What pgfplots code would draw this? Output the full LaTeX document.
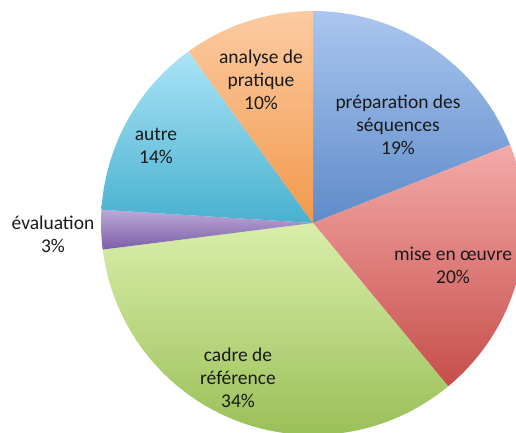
\documentclass[border=0pt]{standalone}
\usepackage{pgfplots}
\pgfplotsset{compat=1.18}
\usepgfplotslibrary{polar}
\usetikzlibrary{calc}
\usepackage{fontspec}
\setmainfont{Carlito}
% slice colours: light (top) and dark (bottom) ends of each gradient
\definecolor{blueT}{HTML}{ABC6F0}
\definecolor{blueB}{HTML}{5E8BC8}
\definecolor{redT}{HTML}{F4AAA9}
\definecolor{redB}{HTML}{C64E4A}
\definecolor{greenT}{HTML}{DAEEAA}
\definecolor{greenB}{HTML}{9AC058}
\definecolor{purpT}{HTML}{BCA9D8}
\definecolor{purpB}{HTML}{7B5EA6}
\definecolor{cyanT}{HTML}{ABE4F7}
\definecolor{cyanB}{HTML}{48B1CF}
\definecolor{oranT}{HTML}{FCCBA2}
\definecolor{oranB}{HTML}{F2994C}
\definecolor{txt}{HTML}{1A1A1A}
\tikzset{lbl/.style={align=center,text=txt,font=\fontsize{19.5}{22.8}\selectfont}}
% shares (percent), clockwise from 12 o'clock:
% preparation 19, mise en oeuvre 20, cadre 34, evaluation 3, autre 14, analyse 10
% 1% = 3.6 degrees
\begin{document}
\begin{tikzpicture}
\begin{polaraxis}[hide axis, width=424pt, height=424pt, scale only axis,
  ymin=0, ymax=1, clip=false]
% preparation des sequences 19%: 90 -> 21.6
\addplot[draw=none, top color=blueT, bottom color=blueB, domain=21.6:90, samples=60] {1} -- (axis cs:0,0) -- cycle;
% mise en oeuvre 20%: 21.6 -> -50.4
\addplot[draw=none, top color=redT, bottom color=redB, domain=-50.4:21.6, samples=60] {1} -- (axis cs:0,0) -- cycle;
% cadre de reference 34%: -50.4 -> -172.8
\addplot[draw=none, top color=greenT, bottom color=greenB, domain=-172.8:-50.4, samples=90] {1} -- (axis cs:0,0) -- cycle;
% evaluation 3%: -172.8 -> -183.6
\addplot[draw=none, top color=purpT, bottom color=purpB, domain=-183.6:-172.8, samples=12] {1} -- (axis cs:0,0) -- cycle;
% autre 14%: -183.6 -> -234
\addplot[draw=none, top color=cyanT, bottom color=cyanB, domain=-234:-183.6, samples=40] {1} -- (axis cs:0,0) -- cycle;
% analyse de pratique 10%: -234 -> -270
\addplot[draw=none, top color=oranT, bottom color=oranB, domain=-270:-234, samples=30] {1} -- (axis cs:0,0) -- cycle;
\coordinate (O) at (axis cs:0,0);
\end{polaraxis}
\node[lbl] at ($(O)+(85pt,98pt)$) {préparation des\\séquences\\19\%};
\node[lbl] at ($(O)+(140pt,-42pt)$) {mise en œuvre\\20\%};
\node[lbl] at ($(O)+(-75pt,-155pt)$) {cadre de\\référence\\34\%};
\node[lbl] at ($(O)+(-260pt,-11pt)$) {évaluation\\3\%};
\node[lbl] at ($(O)+(-157pt,77pt)$) {autre\\14\%};
\node[lbl] at ($(O)+(-52pt,143pt)$) {analyse de\\pratique\\10\%};
\pgfresetboundingbox
\path[use as bounding box] ($(O)+(-313pt,223pt)$) rectangle ($(O)+(203pt,-209pt)$);
\end{tikzpicture}
\end{document}
